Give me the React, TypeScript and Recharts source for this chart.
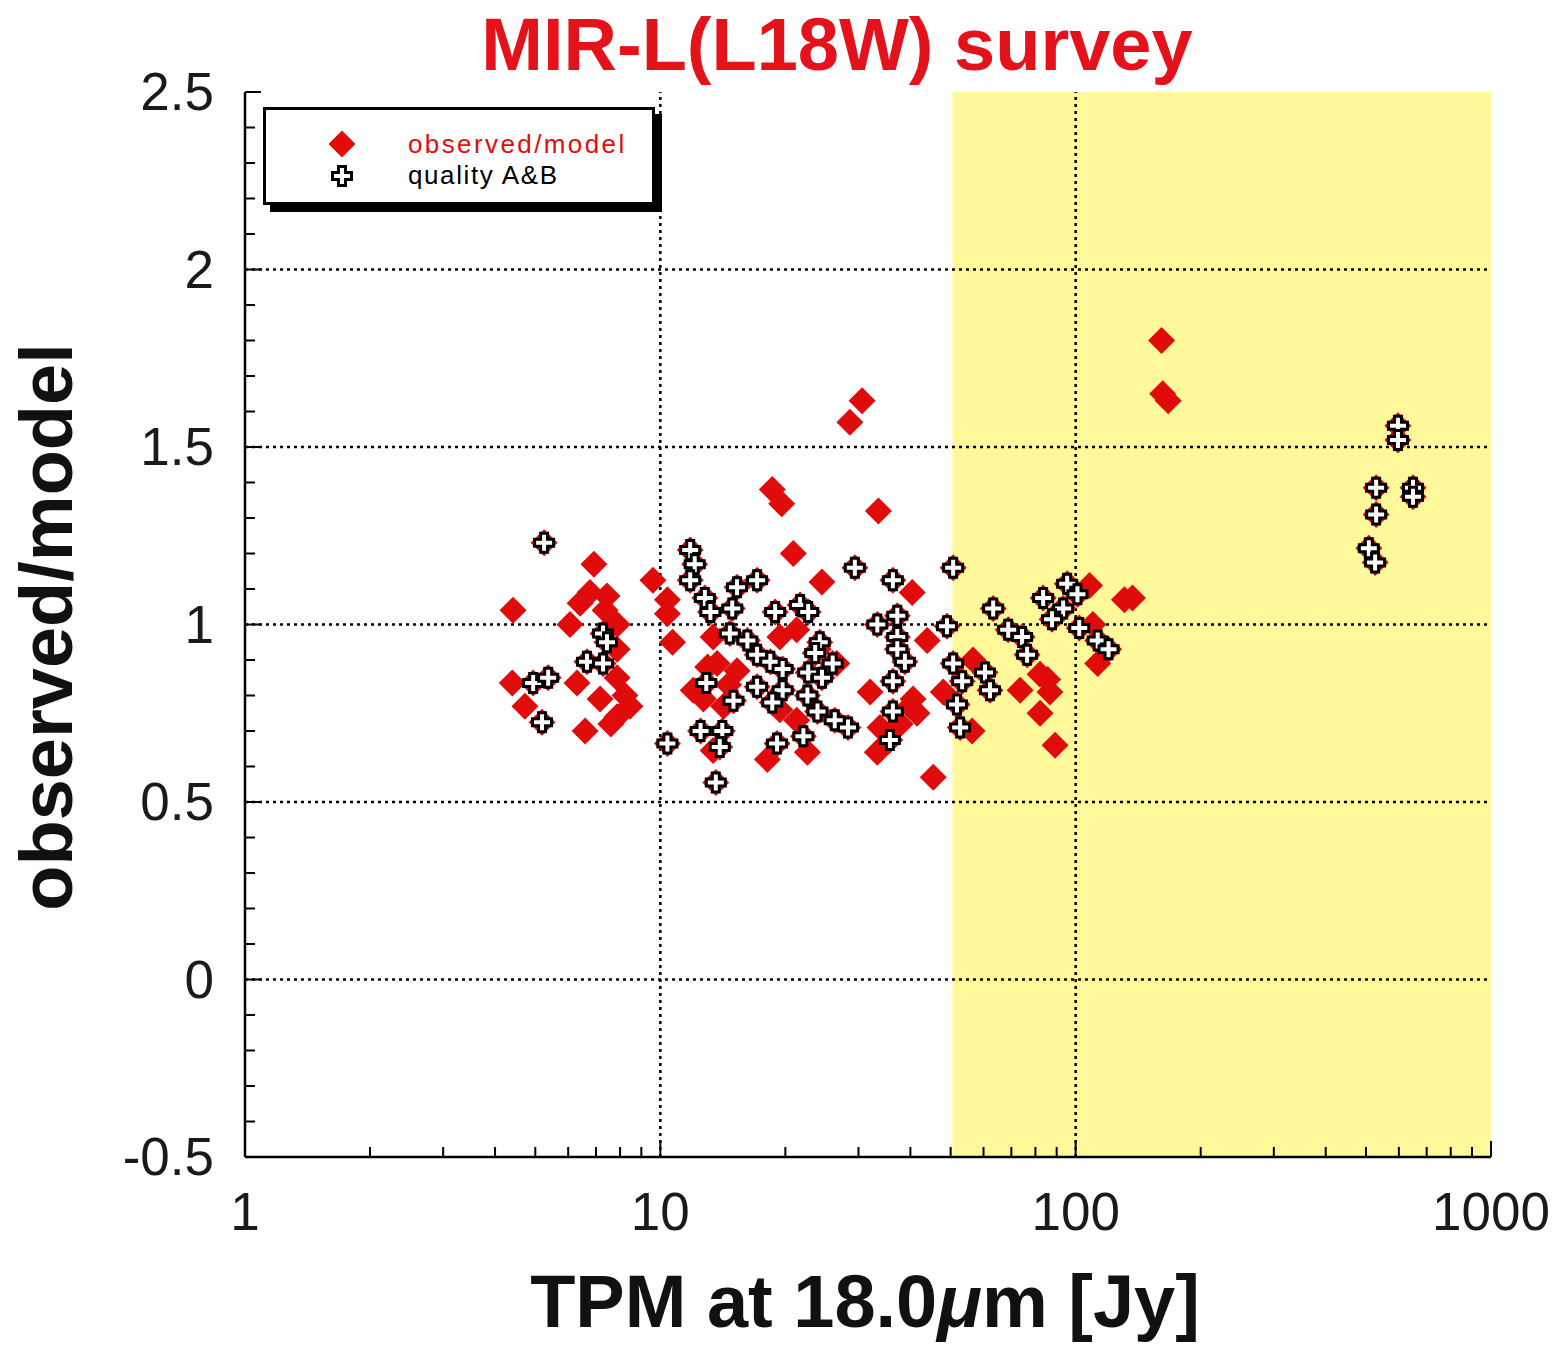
import React from "react";
import { ScatterChart, Scatter, XAxis, YAxis, ReferenceArea, ReferenceLine } from "recharts";

const W = 1557;
const H = 1346;

// values read off the plot: [TPM at 18um (Jy), observed/model]
const observedOnly: [number, number][] = [
  [6.92, 1.17], [6.77, 1.09], [7.44, 1.08], [7.87, 1.0], [6.06, 1.0], [4.42, 1.04],
  [4.4, 0.835], [4.72, 0.77], [6.3, 0.835], [7.87, 0.85], [7.16, 0.79], [8.45, 0.77],
  [7.87, 0.74], [6.59, 0.7], [9.6, 1.125], [10.4, 1.07], [10.7, 0.95], [6.41, 1.06],
  [7.36, 1.04], [8.22, 0.8], [7.87, 0.93], [20.9, 1.2], [24.5, 1.12], [10.4, 1.03],
  [13.4, 0.965], [19.4, 0.965], [21.3, 0.985], [13.7, 0.89], [15.3, 0.87], [12.0, 0.815],
  [12.7, 0.79], [14.2, 0.77], [19.4, 0.76], [21.3, 0.73], [13.4, 0.645], [18.1, 0.62],
  [22.6, 0.64], [30.6, 1.63], [28.6, 1.57], [18.6, 1.38], [19.6, 1.34], [33.5, 1.32],
  [40.4, 1.09], [43.9, 0.955], [26.6, 0.89], [32.0, 0.81], [40.6, 0.79], [48.0, 0.81],
  [41.5, 0.75], [33.8, 0.71], [33.3, 0.64], [45.4, 0.57], [37.8, 0.72], [108, 1.11],
  [131, 1.07], [137, 1.075], [110, 1.0], [56.6, 0.9], [82.1, 0.86], [73.5, 0.815],
  [86.7, 0.81], [85.6, 0.845], [82.1, 0.75], [113, 0.89], [56.3, 0.7], [89.2, 0.66],
  [39.9, 0.77], [161, 1.8], [162, 1.65], [167, 1.63], [7.6, 0.72], [13.0, 0.88],
  [14.6, 0.83], [24.0, 0.93],
];

const qualityAB: [number, number][] = [
  [5.25, 1.23], [7.28, 0.975], [7.44, 0.95], [6.66, 0.895], [7.28, 0.89], [4.94, 0.835],
  [5.37, 0.85], [5.19, 0.725], [10.4, 0.665], [11.8, 1.21], [12.1, 1.17], [11.8, 1.125],
  [12.8, 1.075], [13.2, 1.035], [15.3, 1.105], [17.1, 1.125], [14.9, 1.045], [18.9, 1.035],
  [21.7, 1.055], [22.7, 1.035], [14.7, 0.975], [16.2, 0.955], [17.1, 0.915], [18.4, 0.895],
  [19.7, 0.875], [24.2, 0.95], [23.6, 0.92], [26.0, 0.89], [22.7, 0.865], [24.5, 0.85],
  [17.1, 0.825], [19.7, 0.815], [18.6, 0.78], [22.6, 0.8], [23.9, 0.755], [26.3, 0.73],
  [12.9, 0.835], [15.0, 0.785], [12.5, 0.7], [14.1, 0.7], [13.9, 0.655], [19.1, 0.665],
  [22.1, 0.685], [13.6, 0.555], [29.4, 1.16], [36.3, 1.125], [50.7, 1.16], [33.3, 1.0],
  [37.2, 1.025], [49.0, 0.995], [37.2, 0.965], [37.2, 0.93], [38.8, 0.895], [50.7, 0.89],
  [53.3, 0.84], [36.3, 0.84], [51.8, 0.775], [28.3, 0.71], [36.3, 0.755], [52.7, 0.71],
  [35.7, 0.675], [63.3, 1.045], [68.8, 0.985], [74.3, 0.965], [76.4, 0.915], [83.5, 1.075],
  [95.4, 1.115], [101, 1.085], [93.3, 1.045], [87.7, 1.015], [102, 0.99], [113, 0.955],
  [120, 0.93], [60.5, 0.865], [62.2, 0.815], [597, 1.56], [597, 1.52], [529, 1.385],
  [649, 1.385], [649, 1.36], [529, 1.31], [508, 1.215], [526, 1.175],
];

const xMajor = [1, 10, 100, 1000];
const xMinor = [2, 3, 4, 5, 6, 7, 8, 9, 20, 30, 40, 50, 60, 70, 80, 90, 200, 300, 400, 500, 600, 700, 800, 900];
const yMajor = [-0.5, 0, 0.5, 1, 1.5, 2, 2.5];
const yMinor = [
  -0.4, -0.3, -0.2, -0.1, 0.1, 0.2, 0.3, 0.4, 0.6, 0.7, 0.8, 0.9, 1.1, 1.2, 1.3, 1.4,
  1.6, 1.7, 1.8, 1.9, 2.1, 2.2, 2.3, 2.4,
];
const xGrid = [10, 100];
const yGrid = [0, 0.5, 1, 1.5, 2];
const highFlux = [50.5, 1000];

const RED = "#e00c0c";
const FONT = "'Liberation Sans', Arial, Helvetica, sans-serif";

const toPts = (arr: [number, number][]) => arr.map(([x, y]) => ({ x, y }));
const allPts = toPts([...observedOnly, ...qualityAB]);
const abPts = toPts(qualityAB);

const diamondPath = (cx: number, cy: number, r = 13.5) =>
  `M${cx},${cy - r}L${cx + r},${cy}L${cx},${cy + r}L${cx - r},${cy}Z`;

const crossPath = (cx: number, cy: number, a = 9.5, b = 3.5) =>
  `M${cx - b},${cy - a}H${cx + b}V${cy - b}H${cx + a}V${cy + b}H${cx + b}V${cy + a}` +
  `H${cx - b}V${cy + b}H${cx - a}V${cy - b}H${cx - b}Z`;

const Diamond = (p: any) => <path d={diamondPath(p.cx, p.cy)} fill={RED} />;
const Cross = (p: any) => (
  <path d={crossPath(p.cx, p.cy)} fill="#fff" stroke="#000" strokeWidth={3} strokeLinejoin="miter" />
);

const isMajorX = (v: number) => xMajor.includes(v);
const isMajorY = (v: number) => yMajor.includes(v);

function BottomTick({ x, y, payload }: any) {
  const major = isMajorX(payload.value);
  return (
    <g>
      <line x1={x} y1={y} x2={x} y2={y - (major ? 16 : 10)} stroke="#000" strokeWidth={2} />
      {major && (
        <text x={x} y={y + 73} textAnchor="middle" fontSize={53} fontFamily={FONT} fill="#1a1a1a">
          {payload.value}
        </text>
      )}
    </g>
  );
}

function TopTick({ x, y, payload }: any) {
  const major = isMajorX(payload.value);
  return <line x1={x} y1={y} x2={x} y2={y + (major ? 16 : 10)} stroke="#000" strokeWidth={2} />;
}

function LeftTick({ x, y, payload }: any) {
  const major = isMajorY(payload.value);
  return (
    <g>
      <line x1={x} y1={y} x2={x + (major ? 16 : 10)} y2={y} stroke="#000" strokeWidth={2} />
      {major && (
        <text x={x - 31} y={y + 18} textAnchor="end" fontSize={53} fontFamily={FONT} fill="#1a1a1a">
          {payload.value}
        </text>
      )}
    </g>
  );
}

function RightTick({ x, y, payload }: any) {
  const major = isMajorY(payload.value);
  return <line x1={x} y1={y} x2={x - (major ? 16 : 10)} y2={y} stroke="#000" strokeWidth={2} />;
}

function XTitle({ viewBox }: any) {
  const cx = viewBox.x + viewBox.width / 2;
  return (
    <text x={cx - 3} y={1327} textAnchor="middle" fontSize={74} fontWeight="bold" fontFamily={FONT} fill="#111">
      TPM at 18.0<tspan fontStyle="italic">μ</tspan>m [Jy]
    </text>
  );
}

function YTitle() {
  return (
    <text
      x={72}
      y={627}
      transform="rotate(-90 72 627)"
      textAnchor="middle"
      fontSize={74}
      fontWeight="bold"
      fontFamily={FONT}
      fill="#111"
    >
      observed/model
    </text>
  );
}

function LegendBox() {
  return (
    <div
      style={{
        position: "absolute",
        left: 263,
        top: 107,
        width: 392,
        height: 98,
        boxSizing: "border-box",
        border: "3px solid #000",
        background: "#fff",
        boxShadow: "7px 7px 0 #000",
      }}
    >
      <svg width={386} height={92} style={{ display: "block" }}>
        <path d={diamondPath(76, 34)} fill={RED} />
        <text x={142} y={43} fontSize={26} letterSpacing={2.4} fontFamily={FONT} fill={RED}>
          observed/model
        </text>
        <path d={crossPath(76, 66)} fill="#fff" stroke="#000" strokeWidth={3} />
        <text x={142} y={74} fontSize={26} letterSpacing={1.6} fontFamily={FONT} fill="#000">
          quality A&amp;B
        </text>
      </svg>
    </div>
  );
}

export default function App() {
  return (
    <div style={{ position: "absolute", left: 0, top: 0, width: W, height: H, background: "#fff" }}>
      <ScatterChart width={W} height={H} margin={{ top: 92, right: 66, bottom: 9, left: 0 }}>
        <XAxis
          type="number"
          dataKey="x"
          scale="log"
          domain={[1, 1000]}
          allowDataOverflow
          ticks={[...xMajor, ...xMinor]}
          interval={0}
          tick={<BottomTick />}
          tickLine={false}
          tickSize={0}
          tickMargin={0}
          height={180}
          axisLine={{ stroke: "#000", strokeWidth: 2.5 }}
          label={{ content: <XTitle /> }}
        />
        <XAxis
          xAxisId="top"
          orientation="top"
          type="number"
          scale="log"
          domain={[1, 1000]}
          allowDataOverflow
          ticks={[...xMajor, ...xMinor]}
          interval={0}
          tick={<TopTick />}
          tickLine={false}
          tickSize={0}
          tickMargin={0}
          height={0}
          axisLine={{ stroke: "#000", strokeWidth: 2.5 }}
        />
        <YAxis
          type="number"
          dataKey="y"
          domain={[-0.5, 2.5]}
          allowDataOverflow
          ticks={[...yMajor, ...yMinor]}
          interval={0}
          tick={<LeftTick />}
          tickLine={false}
          tickSize={0}
          tickMargin={0}
          width={245}
          axisLine={{ stroke: "#000", strokeWidth: 2.5 }}
          label={{ content: <YTitle /> }}
        />
        <YAxis
          yAxisId="right"
          orientation="right"
          type="number"
          domain={[-0.5, 2.5]}
          allowDataOverflow
          ticks={[...yMajor, ...yMinor]}
          interval={0}
          tick={<RightTick />}
          tickLine={false}
          tickSize={0}
          tickMargin={0}
          width={0}
          axisLine={{ stroke: "#000", strokeWidth: 2.5 }}
        />
        <ReferenceArea
          x1={highFlux[0]}
          x2={highFlux[1]}
          y1={-0.5}
          y2={2.5}
          fill="#fff99b"
          fillOpacity={1}
          stroke="none"
        />
        {xGrid.map((v) => (
          <ReferenceLine key={"x" + v} x={v} stroke="#000" strokeWidth={2.5} strokeDasharray="3 4" />
        ))}
        {yGrid.map((v) => (
          <ReferenceLine key={"y" + v} y={v} stroke="#000" strokeWidth={2.5} strokeDasharray="3 4" />
        ))}
        <Scatter name="observed/model" data={allPts} shape={Diamond} isAnimationActive={false} />
        <Scatter name="quality A&B" data={abPts} shape={Cross} isAnimationActive={false} />
      </ScatterChart>
      <svg width={W} height={100} style={{ position: "absolute", left: 0, top: 0, pointerEvents: "none" }}>
        <text x={837} y={70} textAnchor="middle" fontSize={74} fontWeight="bold" fontFamily={FONT} fill="#e4121a">
          MIR-L(L18W) survey
        </text>
      </svg>
      <LegendBox />
    </div>
  );
}
